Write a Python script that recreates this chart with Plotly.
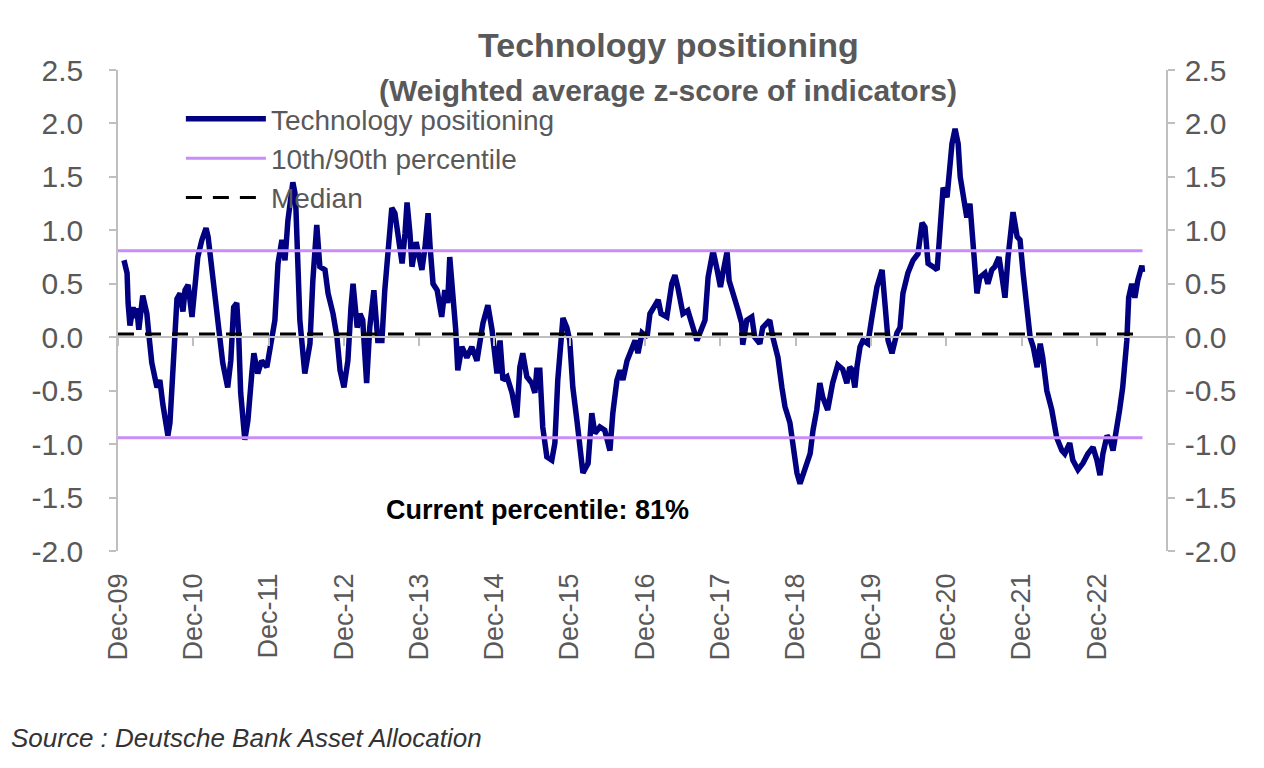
import plotly.graph_objects as go

# ---- data ----
dates = [
    "2009-12-30", "2010-01-14", "2010-01-19", "2010-01-28", "2010-02-12", "2010-02-22", "2010-03-02", "2010-03-12",
    "2010-03-31", "2010-04-20", "2010-05-01", "2010-05-14", "2010-06-08", "2010-06-22", "2010-07-06", "2010-07-31",
    "2010-08-10", "2010-08-24", "2010-09-13", "2010-09-28", "2010-10-12", "2010-10-22", "2010-11-06", "2010-11-25",
    "2010-12-09", "2010-12-23", "2011-01-12", "2011-02-01", "2011-02-11", "2011-03-01", "2011-03-15", "2011-03-25",
    "2011-04-08", "2011-04-23", "2011-05-17", "2011-06-01", "2011-06-15", "2011-06-30", "2011-07-09", "2011-07-19",
    "2011-08-08", "2011-08-23", "2011-09-11", "2011-09-21", "2011-10-10", "2011-10-29", "2011-11-23",
    "2011-12-08", "2012-01-01", "2012-01-16", "2012-02-04", "2012-02-19", "2012-03-04", "2012-03-28", "2012-04-07",
    "2012-04-12", "2012-04-22", "2012-05-01", "2012-05-25", "2012-06-19", "2012-07-03", "2012-07-22", "2012-08-06",
    "2012-08-31", "2012-09-15", "2012-10-09", "2012-10-28", "2012-11-12",
    "2012-12-01", "2012-12-20", "2013-01-04", "2013-01-14", "2013-02-03", "2013-02-17", "2013-03-02", "2013-03-21",
    "2013-04-05", "2013-04-25", "2013-05-14", "2013-06-03", "2013-06-17", "2013-07-02", "2013-07-21", "2013-08-05",
    "2013-08-20", "2013-09-09", "2013-09-23", "2013-10-03", "2013-10-17", "2013-10-27", "2013-11-16", "2013-11-26",
    "2013-12-14", "2013-12-29", "2014-01-13", "2014-01-23", "2014-02-06", "2014-02-26", "2014-03-20", "2014-04-04",
    "2014-04-18", "2014-04-28", "2014-05-12", "2014-05-27", "2014-06-06", "2014-06-26", "2014-07-20", "2014-08-13",
    "2014-09-07", "2014-10-06", "2014-10-30", "2014-11-19",
    "2014-12-13", "2014-12-28", "2015-01-11", "2015-01-31", "2015-02-24", "2015-03-19", "2015-04-03", "2015-04-17",
    "2015-05-07", "2015-05-31", "2015-06-15", "2015-06-24", "2015-07-09", "2015-07-23", "2015-08-12", "2015-09-05",
    "2015-09-20", "2015-10-04", "2015-10-29", "2015-11-17",
    "2015-12-01", "2015-12-16", "2016-01-05", "2016-01-20", "2016-02-03", "2016-02-28", "2016-03-17", "2016-04-01",
    "2016-04-25", "2016-05-19", "2016-06-13", "2016-06-27", "2016-07-17", "2016-08-01", "2016-08-15", "2016-09-04",
    "2016-09-28", "2016-10-13", "2016-10-27", "2016-11-16",
    "2016-12-10", "2016-12-24", "2017-01-18", "2017-02-02", "2017-02-16", "2017-03-16", "2017-04-09", "2017-04-24",
    "2017-05-08", "2017-06-02", "2017-06-26", "2017-07-15", "2017-08-09", "2017-09-03", "2017-09-17", "2017-10-02",
    "2017-10-26", "2017-11-15",
    "2017-12-01", "2017-12-13", "2018-01-02", "2018-01-12", "2018-02-01", "2018-02-25", "2018-03-14", "2018-03-19",
    "2018-04-08", "2018-05-02", "2018-05-16", "2018-06-10", "2018-06-24", "2018-07-28", "2018-08-12", "2018-09-06",
    "2018-09-25", "2018-10-10", "2018-11-03", "2018-11-18",
    "2018-12-07", "2018-12-22", "2019-01-15", "2019-02-09", "2019-02-23", "2019-03-13", "2019-03-28", "2019-04-11",
    "2019-05-05", "2019-05-29", "2019-06-23", "2019-07-17", "2019-08-06", "2019-08-20", "2019-08-30", "2019-09-14",
    "2019-09-24", "2019-10-09", "2019-10-23", "2019-11-16",
    "2019-12-06", "2019-12-30", "2020-01-24", "2020-02-07", "2020-02-22", "2020-03-12", "2020-04-05", "2020-04-20",
    "2020-05-04", "2020-05-28", "2020-06-22", "2020-07-16", "2020-08-05", "2020-08-19", "2020-09-03", "2020-09-27",
    "2020-10-17", "2020-11-01", "2020-11-15",
    "2020-12-04", "2020-12-28", "2021-01-12", "2021-01-27", "2021-02-06", "2021-02-21", "2021-03-10", "2021-03-25",
    "2021-04-08", "2021-04-28", "2021-05-12", "2021-06-06", "2021-06-20", "2021-07-09", "2021-07-24", "2021-08-13",
    "2021-08-28", "2021-09-11", "2021-09-26", "2021-10-20", "2021-11-09", "2021-11-23",
    "2021-12-08", "2021-12-27", "2022-01-11", "2022-01-26", "2022-02-14", "2022-03-01", "2022-03-13", "2022-04-02",
    "2022-04-26", "2022-05-20", "2022-06-14", "2022-06-28", "2022-07-22", "2022-08-06", "2022-08-31", "2022-09-24",
    "2022-10-18", "2022-11-12",
    "2022-12-01", "2022-12-16", "2022-12-30", "2023-01-19", "2023-02-03", "2023-02-17", "2023-03-07", "2023-03-21",
    "2023-04-05", "2023-04-25", "2023-05-04", "2023-05-19", "2023-06-03", "2023-06-17", "2023-07-07", "2023-07-10",
]
values = [
    0.72, 0.60, 0.32, 0.11, 0.28, 0.18, 0.27, 0.07,
    0.39, 0.22, 0.00, -0.24, -0.47, -0.40, -0.62, -0.92,
    -0.80, -0.31, 0.36, 0.41, 0.24, 0.44, 0.49, 0.19,
    0.47, 0.75, 0.91, 1.02, 0.94, 0.63, 0.41, 0.22,
    0.04, -0.24, -0.47, -0.22, 0.28, 0.32, 0.04, -0.52,
    -0.96, -0.78, -0.34, -0.15, -0.34, -0.22, -0.28,
    -0.09, 0.16, 0.69, 0.91, 0.72, 1.09, 1.45, 1.35,
    1.20, 0.53, 0.16, -0.34, -0.06, 0.53, 1.05, 0.66,
    0.63, 0.41, 0.22, 0.00, -0.31,
    -0.47, -0.22, 0.28, 0.50, 0.09, 0.22, 0.16, -0.43,
    0.09, 0.44, -0.03, -0.03, 0.44, 0.84, 1.21, 1.16,
    0.97, 0.69, 0.97, 1.26, 0.97, 0.66, 0.89, 0.79,
    0.63, 0.84, 1.16, 0.84, 0.50, 0.44, 0.19, 0.44,
    0.32, 0.75, 0.47, 0.07, -0.31, -0.09, -0.19, -0.09,
    -0.22, 0.13, 0.30, 0.07,
    -0.34, -0.03, -0.40, -0.37, -0.52, -0.75, -0.28, -0.15,
    -0.37, -0.43, -0.52, -0.31, -0.31, -0.84, -1.12, -1.15,
    -0.99, -0.40, 0.18, 0.09,
    -0.03, -0.47, -0.78, -1.09, -1.27, -1.18, -0.71, -0.90,
    -0.84, -0.87, -1.06, -0.71, -0.40, -0.31, -0.40, -0.22,
    -0.12, -0.03, -0.15, 0.04,
    0.00, 0.22, 0.30, 0.35, 0.22, 0.19, 0.50, 0.58,
    0.47, 0.22, 0.25, 0.13, -0.03, 0.09, 0.16, 0.56,
    0.81, 0.63,
    0.47, 0.60, 0.80, 0.53, 0.38, 0.25, 0.13, -0.07,
    0.16, 0.19, 0.00, -0.06, 0.09, 0.16, 0.00, -0.19,
    -0.47, -0.65, -0.80, -0.99,
    -1.27, -1.37, -1.24, -1.09, -0.87, -0.68, -0.43, -0.56,
    -0.68, -0.43, -0.26, -0.30, -0.43, -0.28, -0.30, -0.47,
    -0.28, -0.09, -0.03, -0.06,
    0.19, 0.47, 0.63, 0.35, -0.03, -0.15, 0.04, 0.09,
    0.41, 0.60, 0.72, 0.78, 1.07, 1.03, 0.69, 0.66,
    0.63, 1.03, 1.40,
    1.31, 1.81, 1.95, 1.81, 1.50, 1.31, 1.12, 1.25,
    0.88, 0.41, 0.56, 0.60, 0.50, 0.63, 0.66, 0.75,
    0.56, 0.37, 0.75, 1.17, 0.94, 0.91,
    0.60, 0.28, 0.00, -0.09, -0.28, -0.06, -0.19, -0.50,
    -0.68, -0.94, -1.06, -1.09, -0.99, -1.15, -1.24, -1.18,
    -1.09, -1.03,
    -1.15, -1.29, -1.09, -0.92, -0.96, -1.06, -0.87, -0.68,
    -0.47, -0.03, 0.37, 0.50, 0.37, 0.53, 0.67, 0.61,
]

p90_value = 0.81
p10_value = -0.94
median_value = 0.03

x_start = "2009-12-01"
x_end = "2023-11-01"

x_tick_dates = ["2009-12-01", "2010-12-01", "2011-12-01", "2012-12-01", "2013-12-01", "2014-12-01", "2015-12-01",
                "2016-12-01", "2017-12-01", "2018-12-01", "2019-12-01", "2020-12-01", "2021-12-01", "2022-12-01"]
x_tick_labels = ["Dec-09", "Dec-10", "Dec-11", "Dec-12", "Dec-13", "Dec-14", "Dec-15",
                 "Dec-16", "Dec-17", "Dec-18", "Dec-19", "Dec-20", "Dec-21", "Dec-22"]
y_tick_values = [-2.0, -1.5, -1.0, -0.5, 0.0, 0.5, 1.0, 1.5, 2.0, 2.5]
y_tick_labels = ["-2.0", "-1.5", "-1.0", "-0.5", "0.0", "0.5", "1.0", "1.5", "2.0", "2.5"]

title_text = "Technology positioning"
subtitle_text = "(Weighted average z-score of indicators)"
note_text = "Current percentile: 81%"
source_text = "Source : Deutsche Bank Asset Allocation"

# ---- styles ----
FONT = "Liberation Sans, Arial, sans-serif"
GREY_TXT = "#595959"
AXIS_GREY = "#BFBFBF"
NAVY = "#000080"
PURPLE = "#C78EF7"

fig = go.Figure()
fig.add_trace(go.Scatter(x=dates, y=values, mode="lines", name="Technology positioning",
                         line=dict(color=NAVY, width=5.5), hoverinfo="skip"))
fig.add_trace(go.Scatter(x=[x_start, dates[-1]], y=[p90_value, p90_value], mode="lines",
                         name="10th/90th percentile", line=dict(color=PURPLE, width=3), hoverinfo="skip"))
fig.add_trace(go.Scatter(x=[x_start, dates[-1]], y=[p10_value, p10_value], mode="lines",
                         name="10th percentile", showlegend=False,
                         line=dict(color=PURPLE, width=3), hoverinfo="skip"))
fig.add_trace(go.Scatter(x=[x_start, dates[-1]], y=[median_value, median_value], mode="lines",
                         name="Median", line=dict(color="black", width=3, dash="16px,11px"), hoverinfo="skip"))
# helper trace so the secondary axes are drawn
fig.add_trace(go.Scatter(x=[dates[0]], y=[values[0]], xaxis="x2", yaxis="y2", mode="lines",
                         showlegend=False, hoverinfo="skip", line=dict(color="rgba(0,0,0,0)")))

ytickfont = dict(family=FONT, size=30, color=GREY_TXT)
xtickfont = dict(family=FONT, size=27, color=GREY_TXT)

fig.update_layout(
    width=1264, height=768,
    margin=dict(l=118, r=98, t=70, b=217),
    paper_bgcolor="white", plot_bgcolor="white",
    font=dict(family=FONT, color=GREY_TXT),
    showlegend=True,
    legend=dict(x=0.06, y=0.95, xanchor="left", yanchor="top",
                bgcolor="rgba(0,0,0,0)", font=dict(family=FONT, size=28, color=GREY_TXT),
                itemwidth=80, tracegroupgap=0),
    xaxis=dict(type="date", range=[x_start, x_end], tickvals=x_tick_dates, ticktext=x_tick_labels,
               tickangle=-90, tickfont=xtickfont, showgrid=False, zeroline=False, showline=False,
               ticks="", ticklabelstandoff=16),
    xaxis2=dict(type="date", range=[x_start, x_end], overlaying="x", anchor="free", position=4/9,
                tickvals=x_tick_dates, showticklabels=False, ticks="outside", ticklen=8,
                tickcolor=AXIS_GREY, tickwidth=1.5, showline=True, linecolor=AXIS_GREY, linewidth=2,
                showgrid=False, zeroline=False),
    yaxis=dict(range=[-2.0, 2.5], tickvals=y_tick_values, ticktext=y_tick_labels, tickfont=ytickfont,
               showgrid=False, zeroline=False, showline=True, linecolor=AXIS_GREY, linewidth=1.5,
               ticks="outside", ticklen=7, tickcolor=AXIS_GREY, tickwidth=1.5, ticklabelstandoff=20),
    yaxis2=dict(range=[-2.0, 2.5], overlaying="y", side="right", anchor="x",
                tickvals=y_tick_values, ticktext=y_tick_labels, tickfont=ytickfont,
                showgrid=False, zeroline=False, showline=True, linecolor=AXIS_GREY, linewidth=1.5,
                ticks="outside", ticklen=7, tickcolor=AXIS_GREY, tickwidth=1.5, ticklabelstandoff=4),
    annotations=[
        dict(text="<b>" + title_text + "</b>", xref="paper", yref="paper", x=0.525, y=1.052,
             xanchor="center", yanchor="middle", showarrow=False,
             font=dict(family=FONT, size=34, color=GREY_TXT)),
        dict(text="<b>" + subtitle_text + "</b>", xref="paper", yref="paper", x=0.525, y=0.958,
             xanchor="center", yanchor="middle", showarrow=False,
             font=dict(family=FONT, size=30, color=GREY_TXT)),
        dict(text="<b>" + note_text + "</b>", xref="paper", yref="y", x=0.40, y=-1.62,
             xanchor="center", yanchor="middle", showarrow=False,
             font=dict(family=FONT, size=27, color="black")),
        dict(text="<i>" + source_text + "</i>", xref="paper", yref="paper", x=-0.104, y=-0.389,
             xanchor="left", yanchor="middle", showarrow=False,
             font=dict(family=FONT, size=26, color="#333333")),
    ],
)

fig.write_html("out.html")
